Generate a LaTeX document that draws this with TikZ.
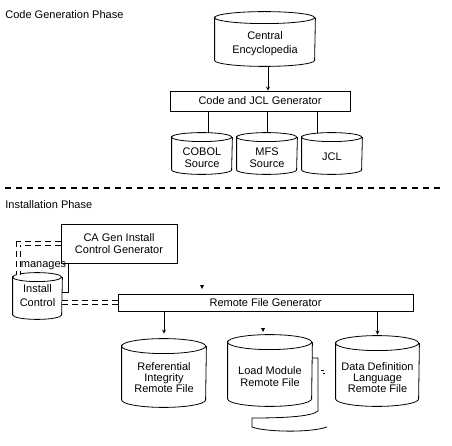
\documentclass[tikz,border=0pt]{standalone}
\usepackage{fontspec}
\setmainfont{Liberation Sans}
% push drum text below the top ellipse
\newcommand{\dbdrop}[1]{\rule{0pt}{#1}}
% outline of a drum round node #1: x radius #2, y radius #3
\newcommand{\drum}[3]{%
  \draw ([yshift=-#3]#1.north west) arc[start angle=180, end angle=-180, x radius=#2, y radius=#3]
    -- ([yshift=#3]#1.south west) arc[start angle=180, end angle=360, x radius=#2, y radius=#3]
    -- ([yshift=-#3]#1.north east);}

\begin{document}
\begin{tikzpicture}[
  x=1pt, y=-1pt, line width=0.8pt,
  font=\fontsize{11}{12}\selectfont,
  phase/.style={anchor=west, inner sep=0pt},
  gen/.style={rectangle, draw, align=center, inner sep=1pt},
  db/.style={rectangle, align=center, inner sep=0pt},
  smalldb/.style={db, minimum width=60pt, minimum height=41pt},
  bigdb/.style={db, minimum width=84pt, font=\fontsize{11}{11}\selectfont},
  arrow/.style={->, >=stealth},
  ctrl/.style={double, double distance=3.5pt, dash pattern=on 6pt off 4pt}
]
\useasboundingbox (0,0) rectangle (452,446);

% Code generation phase
\node[phase] (cgp) at (5,15) {Code Generation Phase};
\node[db, minimum width=100pt, minimum height=54pt, font=\fontsize{11}{14}\selectfont] (ce) at (265,39) {\dbdrop{18pt}Central\\Encyclopedia};
\node[gen, minimum width=180pt, minimum height=20pt] (cjg) at (260,101) {Code and JCL Generator};
\node[smalldb] (cobol) at (202,153.5) {\dbdrop{16pt}COBOL\\Source};
\node[smalldb] (mfs) at (267,153.5) {\dbdrop{16pt}MFS\\Source};
\node[smalldb] (jcl) at (332,153.5) {\dbdrop{15pt}JCL};
\drum{ce}{50pt}{6pt}
\drum{cobol}{30pt}{4.5pt}
\drum{mfs}{30pt}{4.5pt}
\drum{jcl}{30pt}{4.5pt}

\draw[arrow] ([xshift=3pt]ce.south) -- ([xshift=3pt]ce.south |- cjg.north);
\draw ([xshift=6pt]cobol.north) -- ([xshift=6pt]cobol.north |- cjg.south);
\draw (mfs.north) -- (mfs.north |- cjg.south);
\draw ([xshift=-15pt]jcl.north) -- ([xshift=-15pt]jcl.north |- cjg.south);

% Phase separator
\draw[line width=1.6pt, dash pattern=on 6pt off 5pt] (5,188) -- (440,188);

% Installation phase
\node[phase] (ip) at (5,205) {Installation Phase};
\node[gen, minimum width=116pt, minimum height=39pt] (icg) at (119,243.5) {CA Gen Install\\Control Generator};
\node[db, minimum width=49pt, minimum height=46pt, font=\fontsize{11}{14}\selectfont] (ic) at (37.5,296) {Install\\Control};
\node[gen, minimum width=295pt, minimum height=17pt] (rfg) at (265.5,302.5) {Remote File Generator};
\drum{ic}{24.5pt}{4.5pt}

\draw[ctrl] (icg.west) -| ([xshift=-19pt,yshift=-2pt]ic.north)
  node[pos=0.86, anchor=west, xshift=1pt, inner sep=1pt] {manages};
\draw ([xshift=8pt]icg.south west) |- ([yshift=4pt]ic.east);
\draw[ctrl] (ic.east |- rfg.west) -- (rfg.west);

\node[bigdb, minimum height=68pt] (rif) at (164,373) {\dbdrop{17pt}Referential\\Integrity\\Remote File};
\node[bigdb, minimum height=71pt, font=\fontsize{11}{12}\selectfont] (lmf) at (270,370.5) {\dbdrop{21pt}Load Module\\Remote File};
\node[bigdb, minimum width=83pt, minimum height=70pt] (ddl) at (377.5,371) {\dbdrop{22pt}Data Definition\\Language\\Remote File};
\drum{rif}{42pt}{7.5pt}
\drum{lmf}{42pt}{7.5pt}
\drum{ddl}{41.5pt}{7.5pt}

\draw[arrow, shorten >=5pt] (rfg.south -| rif.north) -- (rif.north);
\draw[arrow, shorten >=1pt] (rfg.south -| ddl.north) -- (ddl.north);

% stray tips and the stacked copies behind the load module
\fill (200,285) -- (204,285) -- (202,289) -- cycle;
\fill (261,328) -- (265,328) -- (263,332) -- cycle;
\draw (312,358) -- (318,358) -- (318,411) .. controls (312,416) and (290,418) .. (252,418)
  -- (252,427) .. controls (265,432) and (310,433) .. (327,427);
\draw (321,370.7) -- (323.5,370.7) (322.7,373.3) -- (325.3,373.3);

\end{tikzpicture}
\end{document}
